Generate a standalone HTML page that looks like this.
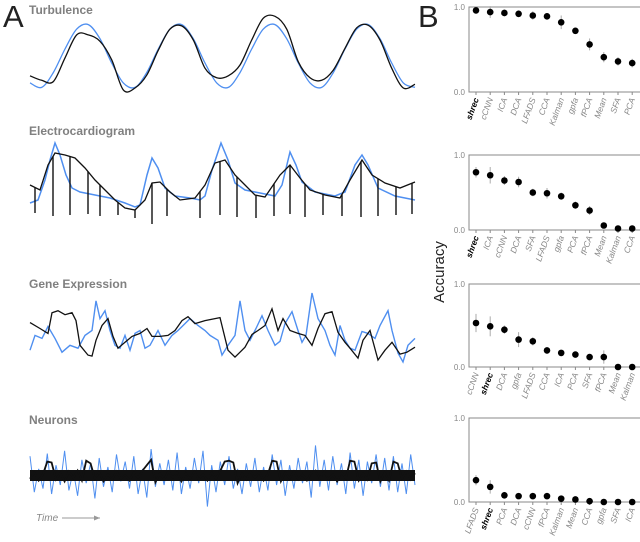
<!DOCTYPE html>
<html><head><meta charset="utf-8"><style>
body{margin:0;background:#fff;width:640px;height:542px;overflow:hidden}
svg{display:block;font-family:"Liberation Sans",sans-serif}
</style></head><body>
<svg id="fig" width="640" height="542" viewBox="0 0 640 542">
<text x="3" y="27" font-size="31" fill="#222">A</text>
<text x="418" y="27" font-size="31" fill="#222">B</text>
<text x="29" y="14" font-size="12" font-weight="bold" fill="#808080">Turbulence</text>
<text x="29" y="135" font-size="12" font-weight="bold" fill="#808080">Electrocardiogram</text>
<text x="29" y="288" font-size="12" font-weight="bold" fill="#808080">Gene Expression</text>
<text x="29" y="424" font-size="12" font-weight="bold" fill="#808080">Neurons</text>
<text x="36" y="521" font-size="10" font-style="italic" fill="#888">Time</text>
<line x1="62" y1="518" x2="100" y2="518" stroke="#999" stroke-width="1"/>
<path d="M100 518 l-6 -2.5 v5 z" fill="#999"/>
<text transform="translate(444,272) rotate(-90)" text-anchor="middle" font-size="15" fill="#222">Accuracy</text>
<g id="left"></g><g id="right"></g>
</svg>
<script>
// ---- Turbulence (34 evenly spaced samples) ----
const turbBlue=[0.08,0.01,0.24,0.61,0.92,0.99,0.77,0.39,0.08,0.01,0.24,0.61,0.92,0.99,0.77,0.39,0.08,0.01,0.24,0.61,0.92,0.99,0.77,0.39,0.08,0.01,0.24,0.61,0.92,0.99,0.77,0.39,0.08,0.01];
const turbBlack=[0.19,0.12,0.1,0.47,0.83,0.83,0.73,0.44,-0.03,0,0.2,0.59,0.92,0.97,0.75,0.31,0.16,0.19,0.36,0.75,1.09,1.12,0.92,0.41,0.16,0.12,0.28,0.62,0.94,0.98,0.75,0.31,0,0.06];
// ---- ECG (time, value) ----
const ecgBlueT=[0,8,15,20,25,30,36,42,50,65,80,95,105,110,117,122,128,135,145,160,170,175,182,191,198,205,215,230,245,252,260,266,272,285,305,315,325,332,338,348,365,385];
const ecgBlueV=[15,18,38,58,75,63,43,30,26,23,20,15,11,13,43,60,50,30,22,20,18,22,48,75,58,35,28,25,22,33,66,53,36,26,22,26,53,63,53,30,22,18];
const ecgBlackT=[0,10,18,25,35,45,55,65,75,85,95,105,115,122,130,140,150,165,175,185,195,205,215,225,235,250,260,270,280,295,310,320,332,342,355,370,385];
const ecgBlackV=[33,28,53,65,63,60,50,38,28,18,10,8,18,35,36,26,18,20,33,55,58,43,33,23,21,43,53,40,28,23,20,38,58,43,35,30,36];
const spikeT=[5,23,40,58,70,88,105,122,137,170,190,207,226,244,260,275,293,312,331,348,366,382];
const spikeV=[5,2,3,4,2,3,0,-6,2,0,3,1,0,2,4,1,3,2,1,2,3,4];
// ---- Gene expression (time, value) ----
const geneBlackT=[0,10,18,22,28,35,42,46,50,58,62,66,72,78,83,88,95,102,110,117,122,130,138,145,152,158,165,175,185,190,198,205,210,215,222,228,235,242,248,253,260,268,275,282,288,295,302,308,315,320,328,333,340,348,355,362,370,377,385];
const geneBlackV=[41,35,30,51,53,49,51,43,18,8,7,23,38,45,27,15,21,27,30,35,27,27,28,33,43,47,40,43,45,46,13,6,11,16,29,33,38,55,33,45,33,30,28,18,35,50,52,31,21,15,5,23,33,3,13,21,9,11,16];
const geneBlueT=[0,5,12,18,25,32,40,48,55,62,66,70,75,80,85,90,95,100,105,110,115,120,128,135,142,148,155,160,168,175,180,188,192,198,205,210,215,220,226,232,238,245,250,255,262,268,272,276,282,288,295,300,305,310,315,320,325,332,338,345,350,358,362,368,373,378,385];
const geneBlueV=[13,28,25,37,25,11,18,15,28,33,63,45,53,33,18,15,28,13,30,33,15,18,33,18,28,33,40,45,38,33,28,23,8,18,28,63,33,23,35,48,33,18,22,40,52,33,21,28,71,45,33,18,8,38,23,15,13,32,30,25,38,53,33,10,1,18,25];
// ---- Neurons (evenly spaced samples) ----
const neuroBlack=[-3,4,-5,2,16,15,-4,3,-6,5,-2,6,-5,17,14,-3,4,-6,2,-4,5,-3,1,-5,4,-2,6,12,18,-7,3,-4,5,-2,4,-6,3,-3,5,-4,2,-5,4,-3,6,16,17,15,-8,3,-4,5,-2,4,-5,2,17,16,-6,4,-3,5,-4,2,-5,3,6,-3,5,-4,2,-6,4,-3,17,16,-5,3,-4,14,15,-6,4,-5,16,14,-3,5,-4,3];
const neuroBlue=[22,-18,8,-14,25,-20,12,-10,28,-16,6,-22,18,-8,14,-25,20,-12,10,-18,24,-6,16,-14,22,-20,8,-24,30,-12,14,-10,18,-16,26,-20,10,-14,20,-8,28,-34,12,-18,16,-10,22,-14,8,-20,14,-12,20,-18,10,-16,24,-10,18,-22,12,-14,20,-8,16,-24,34,-12,18,-16,22,-10,14,-20,26,-14,18,-22,16,-8,24,-12,20,-16,22,-18,14,-20,24,-10];
// ---- Accuracy panels ----
const cats1=["shrec","cCNN","ICA","DCA","LFADS","CCA","Kalman","gpfa","fPCA","Mean","SFA","PCA"];
const acc1=[0.96,0.94,0.93,0.92,0.90,0.89,0.82,0.72,0.56,0.41,0.36,0.34];
const err1=[0.03,0.07,0.04,0.04,0.05,0.04,0.08,0.02,0.07,0.06,0.05,0.05];
const cats2=["shrec","ICA","cCNN","DCA","SFA","LFADS","gpfa","PCA","fPCA","Mean","Kalman","CCA"];
const acc2=[0.77,0.73,0.66,0.64,0.50,0.49,0.45,0.33,0.26,0.06,0.02,0.02];
const err2=[0.07,0.11,0.06,0.07,0.05,0.07,0.05,0.05,0.06,0.01,0.01,0.01];
const cats3=["cCNN","shrec","DCA","gpfa","LFADS","CCA","ICA","PCA","SFA","fPCA","Mean","Kalman"];
const acc3=[0.53,0.49,0.45,0.33,0.31,0.20,0.17,0.15,0.12,0.12,0.0,0.0];
const err3=[0.11,0.12,0.05,0.09,0.05,0.04,0.02,0.03,0.02,0.08,0,0];
const cats4=["LFADS","shrec","PCA","DCA","cCNN","fPCA","Kalman","Mean","CCA","gpfa","SFA","ICA"];
const acc4=[0.26,0.18,0.08,0.07,0.07,0.07,0.04,0.03,0.01,0.0,0.0,0.0];
const err4=[0.06,0.08,0.04,0.02,0.04,0.04,0.02,0.02,0.01,0,0,0];

const NS="http://www.w3.org/2000/svg";
function mk(tag,attrs,parent){const e=document.createElementNS(NS,tag);for(const k in attrs)e.setAttribute(k,attrs[k]);parent.appendChild(e);return e;}
const left=document.getElementById('left'),right=document.getElementById('right');
const BLUE="#4f8ff0";
function lin(d0,d1,r0,r1){return v=>r0+(v-d0)/(d1-d0)*(r1-r0);}
function polyPath(xs,ys,sx,sy){return xs.map((x,i)=>(i?'L':'M')+sx(x).toFixed(1)+' '+sy(ys[i]).toFixed(1)).join('');}
function smoothPath(xs,ys,sx,sy){const P=xs.map((x,i)=>[sx(x),sy(ys[i])]);let d='M'+P[0][0].toFixed(1)+' '+P[0][1].toFixed(1);
for(let i=0;i<P.length-1;i++){const p0=P[Math.max(0,i-1)],p1=P[i],p2=P[i+1],p3=P[Math.min(P.length-1,i+2)];
d+='C'+(p1[0]+(p2[0]-p0[0])/6).toFixed(1)+' '+(p1[1]+(p2[1]-p0[1])/6).toFixed(1)+' '+(p2[0]-(p3[0]-p1[0])/6).toFixed(1)+' '+(p2[1]-(p3[1]-p1[1])/6).toFixed(1)+' '+p2[0].toFixed(1)+' '+p2[1].toFixed(1);}return d;}
function idx(n){return Array.from({length:n},(_,i)=>i);}

// Turbulence
{const sx=lin(0,33,30,415),sy=lin(0,1,88,24);
let p=mk('path',{d:smoothPath(idx(34),turbBlue,sx,sy),fill:'none',stroke:BLUE,'stroke-width':1.3},left);

p=mk('path',{d:smoothPath(idx(34),turbBlack,sx,sy),fill:'none',stroke:'#111','stroke-width':1.3,'stroke-linejoin':'round'},left);
}
// ECG
{const sx=lin(0,385,30,415),sy=lin(0,78,218,140);
let p=mk('path',{d:polyPath(ecgBlueT,ecgBlueV,sx,sy),fill:'none',stroke:BLUE,'stroke-width':1.5},left);

p=mk('path',{d:polyPath(ecgBlackT,ecgBlackV,sx,sy),fill:'none',stroke:'#111','stroke-width':1.3},left);

function interp(t){for(let i=1;i<ecgBlackT.length;i++){if(t<=ecgBlackT[i]){const a=ecgBlackT[i-1],b=ecgBlackT[i];return ecgBlackV[i-1]+(t-a)/(b-a)*(ecgBlackV[i]-ecgBlackV[i-1]);}}return ecgBlackV[ecgBlackV.length-1];}
spikeT.forEach((t,i)=>{const l=mk('line',{x1:sx(t),x2:sx(t),y1:sy(interp(t)),y2:sy(spikeV[i]),stroke:'#111','stroke-width':1.4},left);
});}
// Gene
{const sx=lin(0,385,30,415),sy=lin(0,71,363,293);
let p=mk('path',{d:polyPath(geneBlueT,geneBlueV,sx,sy),fill:'none',stroke:BLUE,'stroke-width':1.4},left);

p=mk('path',{d:polyPath(geneBlackT,geneBlackV,sx,sy),fill:'none',stroke:'#111','stroke-width':1.3},left);
}
// Neurons
{const sy=lin(0,10,476,467);
const sxB=lin(0,neuroBlue.length-1,30,415),sxK=lin(0,neuroBlack.length-1,30,415);
let p=mk('path',{d:polyPath(idx(neuroBlue.length),neuroBlue,sxB,sy),fill:'none',stroke:BLUE,'stroke-width':1},left);

let b=mk('rect',{x:30,y:470,width:385,height:11,fill:'#111'},left);

p=mk('path',{d:polyPath(idx(neuroBlack.length),neuroBlack,sxK,sy),fill:'none',stroke:'#111','stroke-width':1.8},left);
}

// Accuracy panels
const panels=[[cats1,acc1,err1,7,92],[cats2,acc2,err2,155,230],[cats3,acc3,err3,284,367],[cats4,acc4,err4,418,502]];
panels.forEach((pn,k)=>{const [cats,acc,err,top,bot]=pn;
const g=mk('g',{},right);
const sy=lin(0,1,bot,top),sx=i=>476+i*14.2;
let a=mk('path',{d:`M640 ${top}H469V${bot}H640`,fill:'none',stroke:'#888','stroke-width':1},g);

[[1,'1.0'],[0,'0.0']].forEach(([v,s])=>{const t=mk('text',{x:465,y:sy(v)+3,'text-anchor':'end','font-size':8,fill:'#888'},g);t.textContent=s;
});
cats.forEach((c,i)=>{const x=sx(i);
let tk=mk('line',{x1:x,x2:x,y1:bot,y2:bot+3,stroke:'#888'},g);
let e=mk('line',{x1:x,x2:x,y1:sy(acc[i]+err[i]),y2:sy(acc[i]-err[i]),stroke:'#aaa','stroke-width':1},g);

let d=mk('circle',{cx:x,cy:sy(acc[i]),r:3.3,fill:'#000'},g);
const sh=c==='shrec';
let t=mk('text',{transform:`translate(${x+3},${bot+7}) rotate(-70)`,'text-anchor':'end','font-size':8.5,fill:sh?'#000':'#888','font-weight':sh?'bold':'normal','font-style':'italic'},g);
t.textContent=c;});
});
</script>
</body></html>
